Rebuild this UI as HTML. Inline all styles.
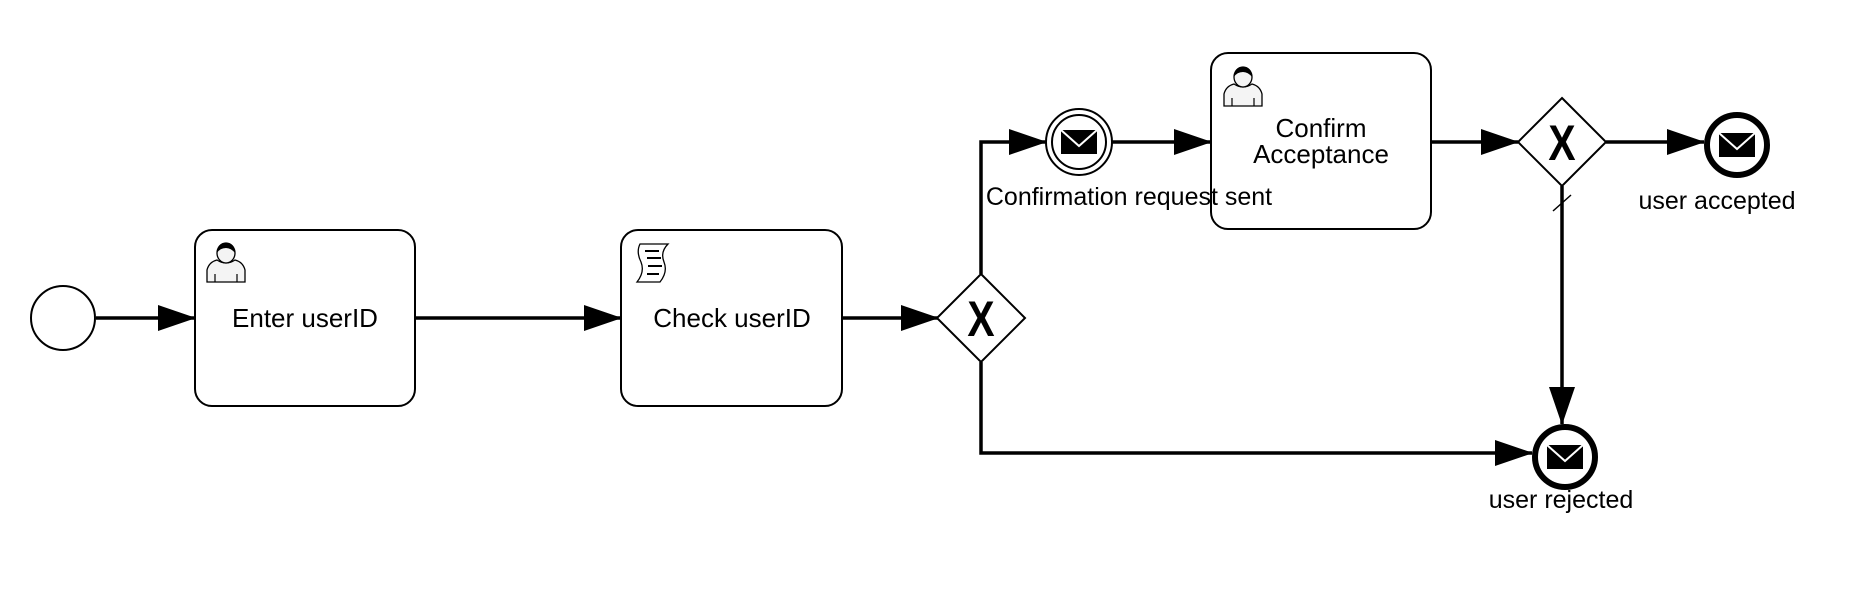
<!DOCTYPE html>
<html><head><meta charset="utf-8"><style>
html,body{margin:0;padding:0;background:#fff;}
svg{display:block}
text{font-family:"Liberation Sans",sans-serif;fill:#000}
</style></head><body>
<svg width="1860" height="592" viewBox="0 0 1860 592" xmlns="http://www.w3.org/2000/svg">
<defs>
<marker id="a" markerWidth="38" markerHeight="28" refX="37" refY="14" orient="auto" markerUnits="userSpaceOnUse">
<path d="M0,1 L38,14 L0,27 Z" fill="#000"/>
</marker>
<g id="user">
<path d="M0,40 L0,28 Q2,20 10,18 Q19,24 28,18 Q36,20 38,28 L38,40 Z" fill="#f4f4f4" stroke="#000" stroke-width="1.3"/>
<path d="M8,40 V32 M30,40 V32" stroke="#000" stroke-width="1.2"/>
<ellipse cx="19" cy="11" rx="9" ry="10" fill="#f4f4f4" stroke="#000" stroke-width="1.3"/>
<path d="M10,11 Q10,1 19,1 Q28,1 28,11 Q24,6 19,6 Q13,6 10,11 Z" fill="#000"/>
</g>
<g id="env">
<rect x="-18" y="-12" width="36" height="24" fill="#000"/>
<path d="M-18,-12 L0,4 L18,-12" fill="none" stroke="#fff" stroke-width="2"/>
</g>
</defs>
<g fill="none" stroke="#000" stroke-width="3.5">
<line x1="96" y1="318" x2="195" y2="318" marker-end="url(#a)"/>
<line x1="415" y1="318" x2="621" y2="318" marker-end="url(#a)"/>
<line x1="842" y1="318" x2="938" y2="318" marker-end="url(#a)"/>
<polyline points="981,274 981,142 1046,142" marker-end="url(#a)"/>
<line x1="1112" y1="142" x2="1211" y2="142" marker-end="url(#a)"/>
<line x1="1431" y1="142" x2="1518" y2="142" marker-end="url(#a)"/>
<line x1="1606" y1="142" x2="1704" y2="142" marker-end="url(#a)"/>
<polyline points="981,362 981,453 1532,453" marker-end="url(#a)"/>
<line x1="1562" y1="186" x2="1562" y2="424" marker-end="url(#a)"/>
</g>
<line x1="1553" y1="211" x2="1571" y2="195" stroke="#000" stroke-width="1.5"/>
<circle cx="63" cy="318" r="32" fill="#fff" stroke="#000" stroke-width="2"/>
<rect x="195" y="230" width="220" height="176" rx="17" fill="#fff" stroke="#000" stroke-width="2"/>
<use href="#user" x="207" y="242"/>
<text x="305" y="327" font-size="26" text-anchor="middle">Enter userID</text>
<rect x="621" y="230" width="221" height="176" rx="17" fill="#fff" stroke="#000" stroke-width="2"/>
<g stroke="#000" fill="#fff" stroke-width="1.3">
<path d="M640,244 H668 Q660,252 664,262 Q668,272 660,282 H637 Q645,272 641,262 Q636,252 640,244 Z"/>
<path d="M645,251 H659 M647,258 H661 M648,266 H662 M647,274 H659" stroke-width="2"/>
</g>
<text x="732" y="327" font-size="26" text-anchor="middle">Check userID</text>
<polygon points="981,274 1025,318 981,362 937,318" fill="#fff" stroke="#000" stroke-width="2"/>
<text x="0" y="0" font-size="48" font-weight="bold" text-anchor="middle" transform="translate(981,336) scale(0.85,1.05)">X</text>
<circle cx="1079" cy="142" r="33" fill="#fff" stroke="#000" stroke-width="2"/>
<circle cx="1079" cy="142" r="27" fill="#fff" stroke="#000" stroke-width="2"/>
<use href="#env" x="1079" y="142"/>
<rect x="1211" y="53" width="220" height="176" rx="17" fill="#fff" stroke="#000" stroke-width="2"/>
<use href="#user" x="1224" y="66"/>
<text x="1321" y="137" font-size="26" text-anchor="middle">Confirm</text>
<text x="1321" y="163" font-size="26" text-anchor="middle">Acceptance</text>
<text x="1129" y="205" font-size="25" text-anchor="middle">Confirmation request sent</text>
<polygon points="1562,98 1606,142 1562,186 1518,142" fill="#fff" stroke="#000" stroke-width="2"/>
<text x="0" y="0" font-size="48" font-weight="bold" text-anchor="middle" transform="translate(1562,160) scale(0.85,1.05)">X</text>
<circle cx="1737" cy="145" r="30" fill="#fff" stroke="#000" stroke-width="6"/>
<use href="#env" x="1737" y="145"/>
<text x="1717" y="209" font-size="25" text-anchor="middle">user accepted</text>
<circle cx="1565" cy="457" r="30" fill="#fff" stroke="#000" stroke-width="6"/>
<use href="#env" x="1565" y="457"/>
<text x="1561" y="508" font-size="25" text-anchor="middle">user rejected</text>
</svg>
</body></html>
